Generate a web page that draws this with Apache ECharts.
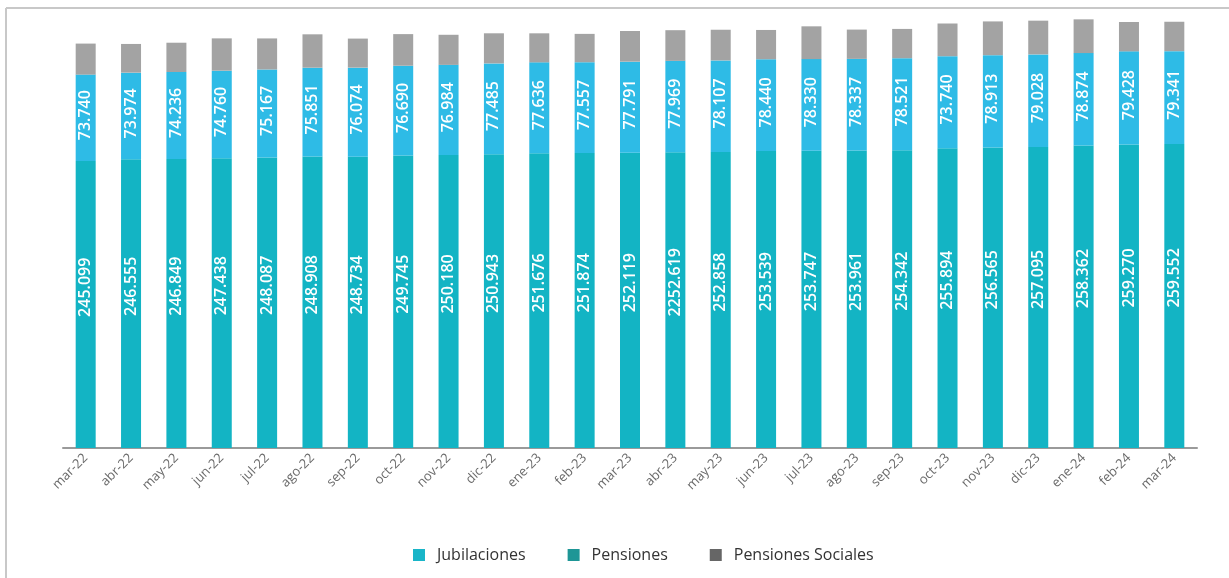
<!DOCTYPE html>
<html>
<head>
<meta charset="utf-8">
<script src="https://cdn.jsdelivr.net/npm/echarts@6/dist/echarts.min.js"></script>
<style>
  html, body { margin: 0; padding: 0; background: #fff; }
  #myChart { width: 1229px; height: 578px; }
</style>
</head>
<body>
<div id="myChart"></div>
<script>
// meses
var categories = ['mar-22', 'abr-22', 'may-22', 'jun-22', 'jul-22', 'ago-22', 'sep-22', 'oct-22', 'nov-22', 'dic-22',
    'ene-23', 'feb-23', 'mar-23', 'abr-23', 'may-23', 'jun-23', 'jul-23', 'ago-23', 'sep-23', 'oct-23',
    'nov-23', 'dic-23', 'ene-24', 'feb-24', 'mar-24'];

// barra de abajo
var jubilaciones = [245099, 246555, 246849, 247438, 248087, 248908, 248734, 249745, 250180, 250943,
    251676, 251874, 252119, 252619, 252858, 253539, 253747, 253961, 254342, 255894,
    256565, 257095, 258362, 259270, 259552];

// barra del medio
var pensiones = [73740, 73974, 74236, 74760, 75167, 75851, 76074, 76690, 76984, 77485,
    77636, 77557, 77791, 77969, 78107, 78440, 78330, 78337, 78521, 78700,
    78913, 79028, 78874, 79428, 79341];

// barra de arriba (sin etiquetas, estimado)
var pensionesSociales = [26500, 24500, 25000, 27600, 26500, 28500, 24800, 27000, 25700, 25700,
    24800, 24200, 26200, 26200, 26200, 25000, 28000, 25000, 25000, 27900,
    28800, 28800, 28800, 25100, 25100];

// textos tal como aparecen en el original (con sus erratas)
var jubilacionesLabels = { 13: '2252.619' };
var pensionesLabels = { 19: '73.740' };

function fmt(v) {
    var s = String(v);
    return s.slice(0, s.length - 3) + '.' + s.slice(s.length - 3);
}

var labelBase = {
    show: true,
    rotate: 90,
    color: '#fff',
    fontFamily: 'Open Sans',
    fontWeight: 600,
    fontSize: 16,
    align: 'center',
    verticalAlign: 'middle'
};

var myChart = echarts.init(document.getElementById('myChart'));
var option = {
    backgroundColor: '#fff',
    animation: false,
    graphic: [
        { type: 'line', shape: { x1: 6, y1: 8, x2: 1229, y2: 8 }, style: { stroke: '#c8c8c8', lineWidth: 2 } },
        { type: 'line', shape: { x1: 6, y1: 8, x2: 6, y2: 578 }, style: { stroke: '#c8c8c8', lineWidth: 2 } }
    ],
    legend: {
        bottom: 10,
        left: 408,
        itemWidth: 12,
        itemHeight: 12,
        itemGap: 42,
        icon: 'rect',
        textStyle: { color: '#333', fontSize: 16, fontFamily: 'Open Sans', padding: [0, 0, 0, 7] },
        data: [
            { name: 'Jubilaciones', itemStyle: { color: '#19b5c8' } },
            { name: 'Pensiones', itemStyle: { color: '#1e9696' } },
            { name: 'Pensiones Sociales', itemStyle: { color: '#666666' } }
        ]
    },
    grid: {
        left: 63,
        right: 32,
        top: 3,
        bottom: 130
    },
    xAxis: {
        type: 'category',
        data: categories,
        axisTick: { show: false },
        axisLine: { lineStyle: { color: '#9a9a9a', width: 2 } },
        axisLabel: {
            rotate: 45,
            color: '#6a6a6a',
            fontSize: 13,
            fontFamily: 'Open Sans',
            margin: 8,
            interval: 0
        }
    },
    yAxis: {
        type: 'value',
        min: 0,
        max: 380000,
        show: false,
        splitLine: { show: false }
    },
    series: [
        {
            name: 'Jubilaciones',
            type: 'bar',
            stack: 'total',
            barWidth: 20,
            data: jubilaciones,
            itemStyle: { color: '#13b4c4' },
            label: Object.assign({}, labelBase, {
                position: ['50%', '44%'],
                formatter: function (p) {
                    return jubilacionesLabels[p.dataIndex] || fmt(p.value);
                }
            })
        },
        {
            name: 'Pensiones',
            type: 'bar',
            stack: 'total',
            barWidth: 20,
            data: pensiones,
            itemStyle: { color: '#2ebbe6' },
            label: Object.assign({}, labelBase, {
                position: ['50%', '47%'],
                formatter: function (p) {
                    return pensionesLabels[p.dataIndex] || fmt(p.value);
                }
            })
        },
        {
            name: 'Pensiones Sociales',
            type: 'bar',
            stack: 'total',
            barWidth: 20,
            data: pensionesSociales,
            itemStyle: { color: '#a3a3a3' }
        }
    ]
};
myChart.setOption(option);
</script>
</body>
</html>
